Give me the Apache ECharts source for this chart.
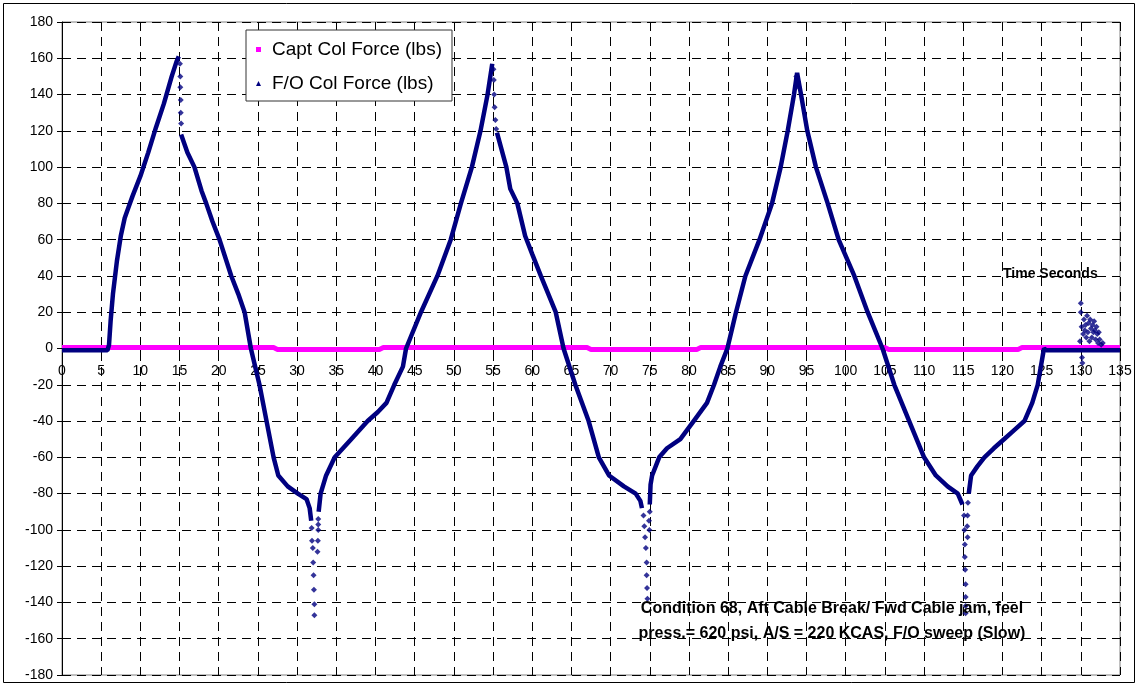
<!DOCTYPE html>
<html><head><meta charset="utf-8">
<script src="https://cdn.jsdelivr.net/npm/echarts@6/dist/echarts.min.js"></script>
<style>html,body{margin:0;padding:0;background:#fff}#c{width:1138px;height:683px}</style>
</head><body><div id="c"></div>
<script>
// Axis ranges
const xMin = 0, xMax = 135, xStep = 5;
const yMin = -180, yMax = 180, yStep = 20;

// Capt Col Force (lbs)
const captT = [0, 27, 27.5, 40.5, 41, 67, 67.5, 81, 81.5, 105, 105.5, 122, 122.5, 135];
const captV = [0.5, 0.5, -0.5, -0.5, 0.5, 0.5, -0.5, -0.5, 0.5, 0.5, -0.5, -0.5, 0.5, 0.5];

// F/O Col Force (lbs) – continuous trace (null = gap)
const foT = [0, 5.8, 6.0, 6.2, 6.5, 7.0, 7.5, 8.0, 8.5, 9.0, 10, 11, 12, 13, 14, 14.6, 14.9,
  15.0,
  15.2, 16.0, 16.9, 17.8, 18.4, 19.2, 20.1, 21.6, 22.5, 23.3, 24.1, 25.2, 26.1, 27.0, 27.6, 28.8, 30.1, 31.2, 31.6, 31.8,
  32.2,
  32.75, 33.0, 33.7, 34.8, 36.9, 39.0, 40.3, 41.4, 42.4, 43.5, 43.9, 45.8, 47.9, 49.6, 50.9, 52.3, 53.4, 54.3, 54.9,
  55.0,
  55.5, 56.7, 57.2, 58.1, 59.1, 60.0, 61.1, 63.0, 64.0, 65.5, 67.2, 68.5, 69.8, 71.7, 73.2, 73.8, 74.0,
  74.5,
  75.0, 75.1, 75.3, 76.2, 77.2, 78.9, 80.6, 82.3, 83.2, 84.0, 84.9, 86.0, 87.2, 89.0, 90.6, 91.7, 92.6, 93.4, 93.8,
  94.3, 95.1, 96.2, 97.7, 99.1, 101.1, 102.8, 104.7, 106.2, 108.1, 110.0, 111.5, 113.0, 114.3, 114.9,
  115.2,
  115.7, 116.0, 116.8, 117.7, 118.9, 120.2, 121.5, 122.8, 123.8, 124.5, 124.9, 125.3, 125.6, 135];
const foV = [-1, -1, 2, 15, 30, 48, 62, 72, 78, 84, 95, 108, 122, 135, 150, 158, 161,
  null,
  118, 108, 100, 87, 80, 70, 60, 40, 30, 20, 0, -20, -40, -60, -70, -76, -80, -83, -88, -95,
  null,
  -90, -80, -70, -60, -50, -40, -35, -30, -20, -10, 0, 20, 40, 60, 80, 100, 120, 140, 157,
  null,
  119, 100, 88, 80, 62, 52, 40, 20, 0, -20, -40, -60, -70, -76, -80, -84, -88,
  null,
  -86, -75, -70, -60, -55, -50, -40, -30, -20, -10, 0, 20, 40, 60, 80, 100, 120, 140, 152,
  140, 120, 100, 80, 60, 40, 20, 0, -20, -40, -60, -70, -76, -80, -86,
  null,
  -80, -70, -65, -60, -55, -50, -45, -40, -30, -20, -10, 0, -1, -1];

// F/O Col Force (lbs) – isolated samples (drops, spikes, noise)
const foPtT = [15.05, 15.1, 15.1, 15.15, 15.15, 15.2,
  31.85, 31.9, 32.0, 32.05, 32.1, 32.15, 32.2, 32.2, 32.7, 32.7, 32.65, 32.6, 32.7,
  55.05, 55.1, 55.15, 55.2, 55.3, 55.4,
  74.2, 74.3, 74.4, 74.5, 74.6, 74.6, 74.65, 74.7, 75.0, 74.9, 74.95,
  93.7, 93.9, 94.0,
  115.1, 115.15, 115.2, 115.2, 115.25, 115.3, 115.3, 115.3, 115.3, 115.6, 115.55, 115.5, 115.55,
  129.9, 130.0, 130.0, 130.1, 130.15, 130.2, 130.3, 130.4, 130.5, 130.6, 130.7, 130.8, 130.9, 131.0, 131.1,
  131.2, 131.3, 131.4, 131.5, 131.6, 131.7, 131.8, 131.9, 132.0, 132.1, 132.2, 132.3, 132.4, 132.6, 132.8];
const foPtV = [157, 150, 144, 137, 130, 124,
  -99, -106, -110, -118, -125, -133, -141, -147, -94, -100, -106, -112, -97,
  154, 148, 140, 133, 126, 121,
  -92, -98, -104, -110, -118, -125, -132, -138, -90, -95, -100,
  150, 147, 144,
  -92, -100, -108, -115, -122, -130, -137, -142, -146, -85, -92, -98, -104,
  4, 25, 20, 12, -5, -8, 8, 16, 10, 13, 6, 18, 9, 14, 4,
  16, 11, 6, 13, 9, 15, 10, 5, 12, 8, 3, 9, 5, 2, 3];

const captName = 'Capt Col Force (lbs)';
const foName = 'F/O Col Force (lbs)';
const conditionLines = ['Condition 68, Aft Cable Break/ Fwd Cable jam, feel',
  'press.= 620 psi, A/S = 220 KCAS, F/O sweep (Slow)'];
const axisNote = 'Time Seconds';

const FONT = '"Liberation Sans", Arial, sans-serif';
const NAVY = '#000080', MAG = '#FF00FF';
const GRID_TOP = 22, GRID_BOTTOM = 8, H = 683;
// shift the x axis from the bottom edge up to the y = 0 line
const zeroOffset = -((H - GRID_TOP - GRID_BOTTOM) * (0 - yMin) / (yMax - yMin));

const chart = echarts.init(document.getElementById('c'), null, {renderer: 'canvas'});
chart.setOption({
  animation: false,
  backgroundColor: '#fff',
  grid: {left: 62, right: 18, top: GRID_TOP, bottom: GRID_BOTTOM, show: true, borderColor: '#808080', borderWidth: 1, backgroundColor: '#fff'},
  legend: {
    left: 246, top: 30, orient: 'vertical',
    backgroundColor: '#fff', borderColor: '#333', borderWidth: 1,
    padding: [10, 10, 8, 10], itemGap: 15,
    itemWidth: 5, itemHeight: 5,
    textStyle: {fontFamily: FONT, fontSize: 19, color: '#000', padding: [0, 0, 0, 6]},
    data: [{name: captName, icon: 'rect', itemStyle: {color: MAG}},
           {name: foName, icon: 'triangle', itemStyle: {color: NAVY}}]
  },
  xAxis: {
    type: 'value', min: xMin, max: xMax, interval: xStep,
    position: 'bottom', offset: zeroOffset,
    axisLine: {onZero: false, lineStyle: {color: '#000', width: 1}},
    axisTick: {show: true, length: 5, lineStyle: {color: '#000'}},
    axisLabel: {fontFamily: FONT, fontSize: 14, color: '#000', margin: 16, hideOverlap: false},
    splitLine: {show: true, lineStyle: {color: '#000', width: 1, type: [9, 6]}}
  },
  yAxis: {
    type: 'value', min: yMin, max: yMax, interval: yStep,
    axisLine: {show: true, onZero: false, lineStyle: {color: '#000', width: 1}},
    axisTick: {show: true, length: 5, lineStyle: {color: '#000'}},
    axisLabel: {fontFamily: FONT, fontSize: 14, color: '#000', margin: 9},
    splitLine: {show: true, lineStyle: {color: '#000', width: 1, type: [9, 6]}}
  },
  series: [
    {name: captName, type: 'line', showSymbol: false, symbol: 'rect',
     data: captT.map((t, i) => [t, captV[i]]),
     lineStyle: {color: MAG, width: 5}, itemStyle: {color: MAG}, z: 3},
    {name: foName, type: 'line', showSymbol: false, symbol: 'triangle', connectNulls: false,
     data: foT.map((t, i) => [t, foV[i]]),
     lineStyle: {color: NAVY, width: 4.5}, itemStyle: {color: NAVY}, z: 4},
    {name: foName, type: 'scatter', symbol: 'diamond', symbolSize: 6,
     data: foPtT.map((t, i) => [t, foPtV[i]]),
     itemStyle: {color: NAVY}, z: 4}
  ],
  graphic: [
    {type: 'rect', shape: {x: 3.5, y: 3.5, width: 1131, height: 679}, style: {fill: null, stroke: '#000', lineWidth: 1}, silent: true, z: -1},
    {type: 'text', left: 1003, top: 267, style: {text: axisNote, font: 'bold 14px ' + FONT, fill: '#000'}, z: 10},
    {type: 'text', x: 832, y: 609, style: {text: conditionLines[0], font: 'bold 16px ' + FONT, fill: '#000', align: 'center', verticalAlign: 'middle'}, z: 10},
    {type: 'text', x: 832, y: 634, style: {text: conditionLines[1], font: 'bold 16px ' + FONT, fill: '#000', align: 'center', verticalAlign: 'middle'}, z: 10}
  ]
});
</script></body></html>
